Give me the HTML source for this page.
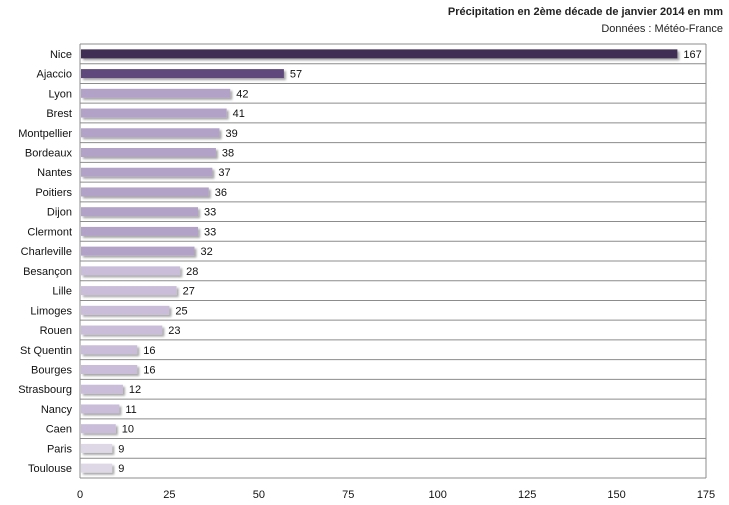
<!DOCTYPE html>
<html><head><meta charset="utf-8"><style>
body{margin:0;background:#fff;}
svg{display:block;font-family:"Liberation Sans",sans-serif;}
</style></head><body>
<svg width="729" height="505" viewBox="0 0 729 505" xmlns="http://www.w3.org/2000/svg">
<defs><filter id="sh" x="-5%" y="-50%" width="115%" height="250%"><feDropShadow dx="2" dy="2" stdDeviation="1" flood-color="#000" flood-opacity="0.35"/></filter></defs>
<text x="723" y="15" text-anchor="end" font-size="11" font-weight="bold" fill="#222">Précipitation en 2ème décade de janvier 2014  en mm</text>
<text x="723" y="32" text-anchor="end" font-size="11" fill="#222">Données : Météo-France</text>
<g id="g"></g>
</svg>
<script>
(function(){
var d=[["Nice",167,"#3f2f55"],["Ajaccio",57,"#5e4a7c"],["Lyon",42,"#b3a2c8"],["Brest",41,"#b3a2c8"],["Montpellier",39,"#b3a2c8"],["Bordeaux",38,"#b3a2c8"],["Nantes",37,"#b3a2c8"],["Poitiers",36,"#b3a2c8"],["Dijon",33,"#b3a2c8"],["Clermont",33,"#b3a2c8"],["Charleville",32,"#b3a2c8"],["Besançon",28,"#c9bdd9"],["Lille",27,"#c9bdd9"],["Limoges",25,"#c9bdd9"],["Rouen",23,"#c9bdd9"],["St Quentin",16,"#c9bdd9"],["Bourges",16,"#c9bdd9"],["Strasbourg",12,"#c9bdd9"],["Nancy",11,"#c9bdd9"],["Caen",10,"#c9bdd9"],["Paris",9,"#ddd7e6"],["Toulouse",9,"#ddd7e6"]];
var x0=80,x1=706,yTop=44,yBot=478,h=(yBot-yTop)/22,s=(x1-x0)/175,o='';
for(var i=0;i<=22;i++){var y=yTop+i*h;o+='<line x1="'+x0+'" x2="'+x1+'" y1="'+y+'" y2="'+y+'" stroke="#8c8c8c" stroke-width="1"/>';}
o+='<line x1="'+x0+'" x2="'+x0+'" y1="'+yTop+'" y2="'+yBot+'" stroke="#8c8c8c"/>';
o+='<line x1="'+x1+'" x2="'+x1+'" y1="'+yTop+'" y2="'+yBot+'" stroke="#8c8c8c"/>';
d.forEach(function(r,i){var c=yTop+h*i+h/2,w=r[1]*s;
o+='<text x="72" y="'+(c+4)+'" text-anchor="end" font-size="11" fill="#111">'+r[0]+'</text>';
o+='<rect x="'+(x0+1)+'" y="'+(c-4.5)+'" width="'+(w-1)+'" height="9" fill="'+r[2]+'" filter="url(#sh)"/>';
o+='<text x="'+(x0+w+6)+'" y="'+(c+4)+'" font-size="11" fill="#111">'+r[1]+'</text>';});
[0,25,50,75,100,125,150,175].forEach(function(v){o+='<text x="'+(x0+v*s)+'" y="498" text-anchor="middle" font-size="11" fill="#111">'+v+'</text>';});
document.getElementById('g').innerHTML=o;
})();
</script>
</body></html>
